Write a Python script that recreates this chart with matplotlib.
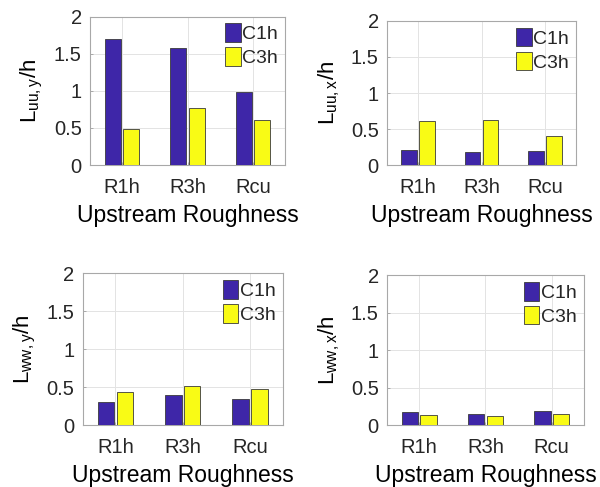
import numpy as np
import matplotlib
matplotlib.use('Agg')
import matplotlib.pyplot as plt

plt.rcParams['font.family'] = ['Liberation Sans', 'DejaVu Sans']
plt.rcParams['mathtext.fontset'] = 'custom'
plt.rcParams['mathtext.rm'] = 'Liberation Sans'
plt.rcParams['mathtext.it'] = 'Liberation Sans'
plt.rcParams['text.color'] = '#262626'

# data
roughness = ['R1h', 'R3h', 'Rcu']
series = ['C1h', 'C3h']
luu_y = [[1.70, 1.575, 0.98], [0.49, 0.765, 0.61]]
luu_x = [[0.21, 0.185, 0.195], [0.61, 0.625, 0.41]]
lww_y = [[0.31, 0.40, 0.34], [0.43, 0.52, 0.47]]
lww_x = [[0.17, 0.15, 0.19], [0.14, 0.12, 0.155]]
ylabels = [r'$\mathrm{L_{uu,y}/h}$', r'$\mathrm{L_{uu,x}/h}$',
           r'$\mathrm{L_{ww,y}/h}$', r'$\mathrm{L_{ww,x}/h}$']
yticks = [0, 0.5, 1, 1.5, 2]
ytick_labels = ['0', '0.5', '1', '1.5', '2']

colors = ['#3e26a8', '#f9fb15']
# axes boxes measured in figure fraction
boxes = [
    [0.150, 0.661, 0.325, 0.305],
    [0.645, 0.661, 0.315, 0.296],
    [0.138, 0.127, 0.333, 0.312],
    [0.645, 0.127, 0.328, 0.308],
]

fig = plt.figure(figsize=(6.0, 4.87), dpi=100)
x = np.arange(1, len(roughness) + 1)
w = 0.245
offs = [-0.14, 0.14]

for data, lab, box in zip([luu_y, luu_x, lww_y, lww_x], ylabels, boxes):
    ax = fig.add_axes(box)
    for k in range(2):
        ax.bar(x + offs[k], data[k], w, color=colors[k], edgecolor='#3a3a3a',
               linewidth=0.6, label=series[k], zorder=3)
    ax.set_xlim(0.515, 3.485)
    ax.set_ylim(0, 2)
    ax.set_xticks(x)
    ax.set_xticklabels(roughness)
    ax.set_yticks(yticks)
    ax.set_yticklabels(ytick_labels)
    ax.grid(True, color='#e3e3e3', linewidth=0.7, zorder=0)
    ax.tick_params(direction='in', length=2.5, width=0.6, colors='#a0a0a0',
                   labelcolor='#262626', labelsize=14.5)
    ax.tick_params(axis='x', pad=9)
    ax.tick_params(axis='y', pad=6)
    for s in ax.spines.values():
        s.set_color('#a8a8a8')
        s.set_linewidth(0.8)
    ax.set_xlabel('Upstream Roughness', fontsize=16.5, labelpad=5)
    ax.set_ylabel(lab, fontsize=16, labelpad=6)
    ax.legend(loc='upper right', frameon=False, fontsize=14,
              handlelength=0.8, handleheight=1.1, handletextpad=0.1,
              labelspacing=0.2, borderaxespad=0.15, borderpad=0.2)

fig.savefig('out.png', dpi=100)
